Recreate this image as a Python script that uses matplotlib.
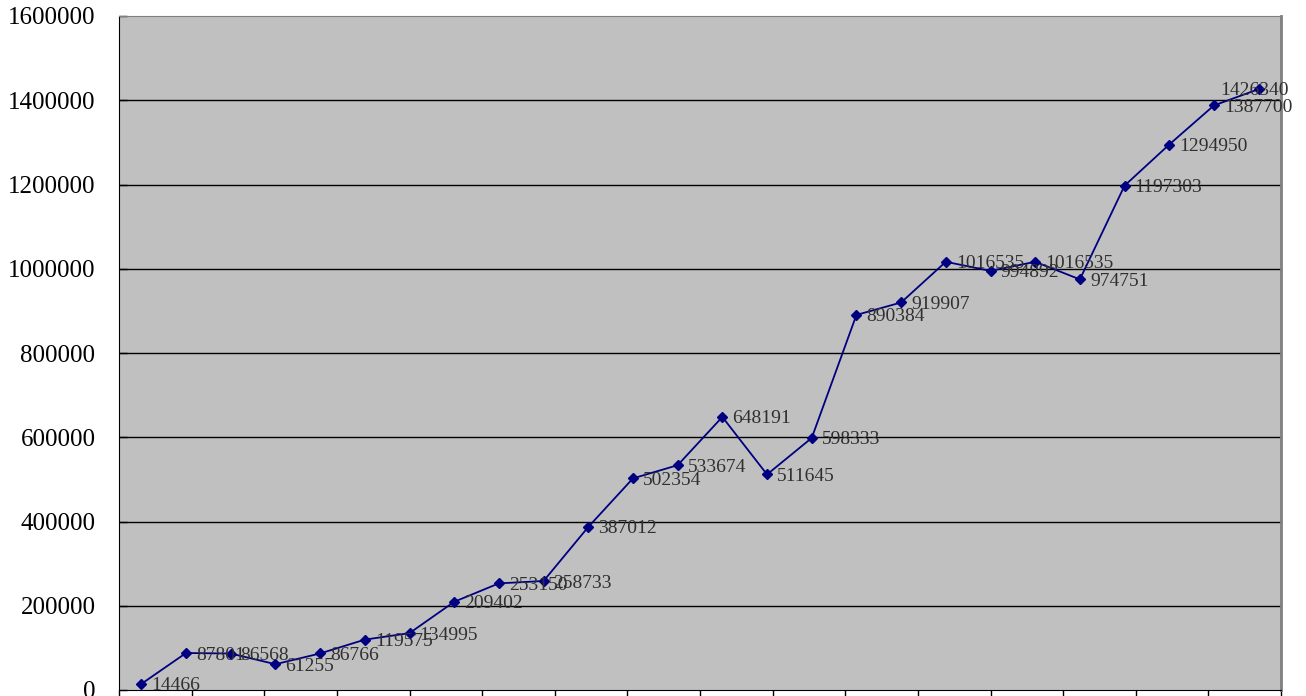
import numpy as np
import matplotlib
matplotlib.use("Agg")
import matplotlib.pyplot as plt

values = [14466, 87801, 86568, 61255, 86766, 119575, 134995, 209402, 253150,
          258733, 387012, 502354, 533674, 648191, 511645, 598333, 890384,
          919907, 1016535, 994892, 1016535, 974751, 1197303, 1294950,
          1387700, 1426340]
labels = [str(v) for v in values]
yticks = [0, 200000, 400000, 600000, 800000, 1000000, 1200000, 1400000, 1600000]

n = len(values)
x = np.arange(n) + 0.5

fig = plt.figure(figsize=(13.06, 6.96), dpi=100)
ax = fig.add_axes([119/1306, 1 - 690/696, (1281-119)/1306, (690-16)/696])
ax.set_facecolor("#C0C0C0")

for t in yticks[1:-1]:
    ax.axhline(t, color="black", lw=1.0, zorder=1)

ax.plot(x, values, color="#000080", lw=1.3, marker="D", ms=5.5,
        markerfacecolor="#000080", markeredgecolor="#000080", zorder=3)

for i, (xi, v, lab) in enumerate(zip(x, values, labels)):
    off = (10, -2)
    if i == n - 1:
        off = (-38, -1)
    ax.annotate(lab, (xi, v), xytext=off, textcoords="offset pixels",
                ha="left", va="center", fontsize=14, family="Liberation Serif",
                color="#303030", zorder=4, annotation_clip=False)

ax.set_xlim(0, n)
ax.set_ylim(0, 1600000)
ax.set_yticks(yticks)
ax.set_yticklabels([str(t) for t in yticks], family="Liberation Serif", fontsize=18)
ax.set_xticks(np.linspace(0, n, 17))
ax.set_xticklabels([])
ax.tick_params(axis="x", direction="out", length=6, color="black", width=1)
ax.tick_params(axis="y", direction="in", length=6, color="black", width=1, pad=17)

ax.spines["left"].set_color("black")
ax.spines["bottom"].set_color("black")
ax.spines["top"].set_color("#808080")
ax.spines["right"].set_color("#808080")
ax.spines["right"].set_linewidth(2)

fig.savefig("out.png", dpi=100)
